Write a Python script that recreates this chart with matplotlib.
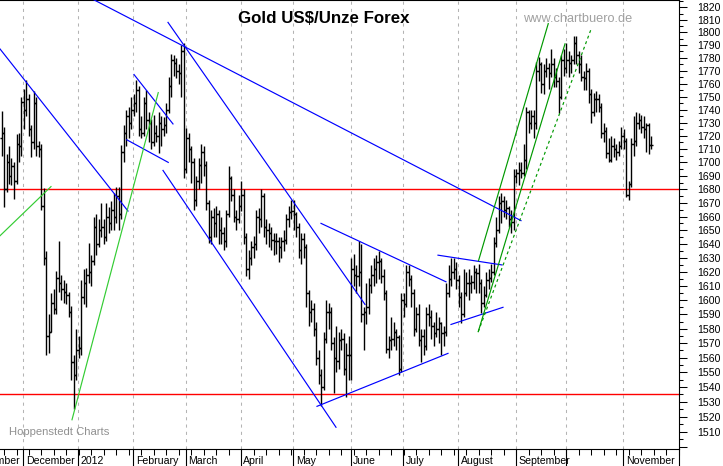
import numpy as np
import pandas as pd
import matplotlib
matplotlib.use('Agg')
import matplotlib.pyplot as plt
import matplotlib.transforms as mtransforms
from matplotlib.ticker import FixedLocator, NullFormatter, FixedFormatter

plt.rcParams['font.family'] = ['Liberation Sans', 'DejaVu Sans']

# ---------------- data (daily OHLC, weekdays) ----------------
start_date = '2011-11-18'
bars_nov11 = [(1718,1739,1705,1722),(1722,1727,1667,1680),(1680,1706,1678,1700),(1700,1712,1684,1690),
              (1690,1703,1683,1697),(1697,1700,1673,1686),(1686,1721,1684,1714),(1714,1722,1700,1712),
              (1712,1750,1705,1746)]
bars_dec11 = [(1746,1756,1725,1740),(1740,1763,1735,1748),(1748,1752,1720,1725),(1725,1728,1704,1715),
              (1715,1754,1710,1745),(1745,1750,1705,1712),(1712,1716,1704,1710),(1710,1714,1665,1668),
              (1668,1681,1625,1630),(1630,1635,1562,1575),(1575,1590,1563,1578),(1578,1605,1578,1598),
              (1598,1608,1590,1594),(1594,1621,1590,1616),(1616,1642,1606,1612),(1612,1618,1600,1608),
              (1608,1614,1598,1606),(1606,1612,1597,1604),(1604,1606,1588,1592),(1592,1596,1545,1557),
              (1557,1562,1525,1548),(1548,1580,1545,1565)]
bars_jan12 = [(1565,1575,1560,1567),(1567,1614,1562,1602),(1602,1622,1597,1612),(1612,1623,1595,1618),
              (1618,1641,1612,1620),(1620,1632,1610,1628),(1628,1660,1625,1652),(1652,1662,1632,1640),
              (1640,1658,1638,1650),(1650,1670,1645,1652),(1652,1658,1640,1645),(1645,1670,1642,1660),
              (1660,1667,1648,1655),(1655,1671,1650,1665),(1665,1677,1650,1660),(1660,1682,1655,1675),
              (1675,1682,1650,1662),(1662,1713,1658,1708),(1708,1728,1700,1722),(1722,1740,1712,1735),
              (1735,1742,1718,1730),(1730,1750,1725,1740)]
bars_feb12 = [(1740,1752,1735,1745),(1745,1763,1738,1755),(1755,1758,1720,1725),(1725,1735,1718,1722),
              (1722,1750,1720,1745),(1745,1755,1725,1732),(1732,1738,1715,1730),(1730,1733,1710,1715),
              (1715,1736,1712,1722),(1722,1728,1715,1720),(1720,1738,1707,1730),(1730,1735,1712,1725),
              (1725,1734,1720,1728),(1728,1745,1722,1740),(1740,1765,1737,1758),(1758,1783,1750,1778),
              (1778,1782,1766,1776),(1776,1780,1764,1770),(1770,1775,1760,1768),(1768,1790,1750,1785),
              (1785,1792,1688,1695)]
bars_mar12 = [(1695,1726,1692,1718),(1718,1722,1700,1710),(1710,1712,1685,1700),(1700,1703,1665,1672),
              (1672,1690,1668,1686),(1686,1703,1680,1698),(1698,1714,1685,1708),(1708,1712,1690,1698),
              (1698,1701,1665,1670),(1670,1672,1641,1645),(1645,1665,1640,1660),(1660,1666,1645,1655),
              (1655,1668,1645,1662),(1662,1665,1640,1650),(1650,1660,1640,1648),(1648,1652,1636,1642),
              (1642,1665,1638,1662),(1662,1697,1660,1688),(1688,1690,1671,1676),(1676,1680,1656,1660),
              (1660,1665,1650,1658),(1658,1676,1655,1668)]
bars_apr12 = [(1668,1686,1664,1676),(1676,1680,1640,1645),(1645,1648,1617,1622),(1622,1636,1615,1630),
              (1630,1642,1625,1638),(1638,1646,1630,1640),(1640,1665,1636,1660),(1660,1666,1648,1658),
              (1658,1680,1652,1675),(1675,1677,1645,1652),(1652,1658,1640,1650),(1650,1655,1638,1648),
              (1648,1652,1636,1643),(1643,1648,1632,1642),(1642,1648,1633,1642),(1642,1645,1627,1638),
              (1638,1645,1630,1642),(1642,1650,1635,1643),(1643,1662,1640,1658),(1658,1668,1652,1663),
              (1663,1672,1658,1664)]
bars_may12 = [(1664,1672,1650,1662),(1662,1663,1645,1652),(1652,1655,1630,1636),(1636,1648,1626,1644),
              (1644,1648,1630,1638),(1638,1640,1595,1605),(1605,1607,1582,1592),(1592,1600,1585,1594),
              (1594,1598,1575,1580),(1580,1585,1555,1560),(1560,1565,1542,1548),(1548,1552,1527,1540),
              (1540,1578,1538,1573),(1573,1600,1570,1592),(1592,1598,1580,1592),(1592,1595,1565,1570),
              (1570,1574,1536,1560),(1560,1582,1550,1558),(1558,1578,1552,1572),(1572,1580,1565,1573),
              (1573,1577,1548,1552),(1552,1570,1533,1562),(1562,1575,1545,1562)]
bars_jun12 = [(1562,1630,1545,1622),(1622,1633,1610,1618),(1618,1625,1605,1617),(1617,1642,1610,1620),
              (1620,1640,1585,1590),(1590,1595,1565,1592),(1592,1612,1583,1595),(1595,1616,1590,1611),
              (1611,1625,1605,1618),(1618,1630,1610,1622),(1622,1632,1612,1627),(1627,1635,1615,1628),
              (1628,1630,1612,1617),(1617,1622,1600,1605),(1605,1607,1563,1566),(1566,1575,1560,1572),
              (1572,1588,1565,1573),(1573,1585,1568,1578),(1578,1580,1565,1574),(1574,1576,1548,1552),
              (1552,1605,1550,1600)]
bars_jul12 = [(1600,1605,1588,1597),(1597,1625,1595,1620),(1620,1625,1610,1615),(1615,1618,1595,1605),
              (1605,1608,1575,1580),(1580,1595,1578,1590),(1590,1597,1568,1572),(1572,1580,1557,1575),
              (1575,1580,1562,1568),(1568,1595,1565,1590),(1590,1597,1582,1588),(1588,1593,1573,1582),
              (1582,1585,1568,1577),(1577,1592,1574,1580),(1580,1588,1570,1584),(1584,1585,1562,1577),
              (1577,1582,1568,1578),(1578,1612,1575,1605),(1605,1625,1602,1615),(1615,1630,1610,1620),
              (1620,1630,1615,1622),(1622,1627,1608,1614)]
bars_aug12 = [(1614,1618,1595,1602),(1602,1606,1584,1590),(1590,1622,1588,1605),(1605,1620,1603,1612),
              (1612,1622,1600,1612),(1612,1618,1605,1613),(1613,1625,1608,1620),(1620,1623,1605,1619),
              (1619,1626,1605,1612),(1612,1615,1591,1598),(1598,1610,1595,1604),(1604,1620,1602,1614),
              (1614,1622,1608,1616),(1616,1626,1613,1620),(1620,1645,1618,1641),(1641,1660,1638,1650),
              (1650,1675,1648,1670),(1670,1677,1655,1671),(1671,1675,1660,1665),(1665,1672,1658,1666),
              (1666,1668,1652,1658),(1658,1665,1648,1656),(1656,1695,1650,1690)]
bars_sep12 = [(1690,1695,1685,1692),(1692,1700,1683,1694),(1694,1700,1688,1692),(1692,1714,1690,1702),
              (1702,1742,1695,1738),(1738,1740,1722,1730),(1730,1740,1725,1735),(1735,1740,1718,1730),
              (1730,1777,1725,1770),(1770,1781,1762,1775),(1775,1777,1753,1760),(1760,1775,1752,1770),
              (1770,1780,1765,1772),(1772,1776,1756,1768),(1768,1787,1765,1775),(1775,1780,1757,1765),
              (1765,1772,1757,1762),(1762,1765,1737,1750),(1750,1782,1748,1778),(1778,1787,1766,1772)]
bars_oct12 = [(1772,1792,1768,1778),(1778,1785,1765,1776),(1776,1782,1768,1778),(1778,1797,1775,1792),
              (1792,1797,1775,1782),(1782,1785,1768,1775),(1775,1782,1762,1765),(1765,1770,1755,1764),
              (1764,1776,1755,1770),(1770,1772,1745,1752),(1752,1756,1730,1738),(1738,1753,1735,1748),
              (1748,1754,1738,1748),(1748,1752,1738,1742),(1742,1745,1718,1722),(1722,1730,1715,1724),
              (1724,1727,1703,1707),(1707,1718,1700,1702),(1702,1720,1700,1712),(1712,1718,1704,1710),
              (1710,1714,1702,1708),(1708,1716,1705,1712),(1712,1727,1710,1720)]
bars_nov12 = [(1720,1725,1710,1716),(1716,1718,1674,1676),(1676,1686,1672,1684),(1684,1718,1682,1714),
              (1714,1735,1705,1716),(1716,1738,1712,1730),(1730,1737,1725,1732),(1732,1736,1722,1727),
              (1727,1735,1718,1725),(1725,1730,1708,1728),(1728,1730,1706,1713),(1713,1720,1710,1713)]

# horizontal support / resistance levels
red_levels = [1680, 1535]

# trend lines: ((trading-day index from 2011-12-01, price), (index, price))
blue_lines = [((-9.6, 1787), (41.6, 1664)),
              ((28.0, 1826), (198.8, 1657)),
              ((57.6, 1808), (136.4, 1597)),
              ((55.6, 1694), (124.8, 1513)),
              ((117.2, 1527), (169.6, 1563)),
              ((118.8, 1655), (168.8, 1613)),
              ((165.6, 1632), (191.2, 1625)),
              ((170.8, 1583), (191.6, 1595)),
              ((44.0, 1767), (59.6, 1729)),
              ((41.1, 1717), (57.7, 1700))]
green_light_lines = [((19.2, 1518), (53.7, 1753)),
                     ((-9.6, 1646), (10.8, 1682))]
green_solid_lines = [((181.8, 1628), (209.7, 1807)),
                     ((181.7, 1578), (216.4, 1791))]
green_dashed_lines = [((181.7, 1578), (226.9, 1803))]

month_labels = ['November', 'December', '2012', 'February', 'March', 'April', 'May',
                'June', 'July', 'August', 'September', '', 'November']
ytick_values = list(range(1500, 1821, 10))

# ---------------- prepare ----------------
bars = (bars_nov11 + bars_dec11 + bars_jan12 + bars_feb12 + bars_mar12 + bars_apr12 +
        bars_may12 + bars_jun12 + bars_jul12 + bars_aug12 + bars_sep12 + bars_oct12 + bars_nov12)
opens, highs, lows, closes = [np.array(v, dtype=float) for v in zip(*bars)]
dates = pd.bdate_range(start_date, periods=len(bars))
ref = np.datetime64('2011-12-01')


def day_index(d):
    return int(np.busday_count(ref, np.datetime64(pd.Timestamp(d).date())))


xs = np.array([day_index(d) for d in dates], dtype=float)

month_starts = pd.date_range('2011-11-01', '2012-11-01', freq='MS')
month_first_bd = [pd.bdate_range(m, periods=1)[0] for m in month_starts]
month_x = np.array([day_index(d) for d in month_first_bd], dtype=float) - 0.3

mondays = pd.date_range('2011-11-14', '2012-12-03', freq='W-MON')
monday_x = [day_index(d) for d in mondays]

# ---------------- figure ----------------
W, H = 723, 466
fig = plt.figure(figsize=(W / 100, H / 100), dpi=100)
fig.patch.set_facecolor('white')
ax = fig.add_axes([0, 17 / H, 679 / W, 449 / H])
ax.set_facecolor('white')
ax.set_yscale('log')
ax.set_xlim(-9.6, 262)
ax.set_ylim(1498.6, 1825.9)

# month grid
for mx in month_x:
    ax.axvline(mx, color='#b4b4b4', lw=0.75, ls=(0, (3, 4)), zorder=1)

# red levels
for lv in red_levels:
    ax.axhline(lv, color='#ff0000', lw=1.0, zorder=2)

# OHLC bars
ax.vlines(xs, lows, highs, color='black', lw=1.0, zorder=4)
ax.hlines(opens, xs - 0.8, xs, color='black', lw=1.0, zorder=4)
ax.hlines(closes, xs, xs + 0.8, color='black', lw=1.0, zorder=4)

# trend lines
for (x0, y0), (x1, y1) in blue_lines:
    ax.plot([x0, x1], [y0, y1], color='#0000ff', lw=0.85, zorder=5)
for (x0, y0), (x1, y1) in green_light_lines:
    ax.plot([x0, x1], [y0, y1], color='#33cc33', lw=0.85, zorder=5)
for (x0, y0), (x1, y1) in green_solid_lines:
    ax.plot([x0, x1], [y0, y1], color='#009900', lw=0.85, zorder=5)
for (x0, y0), (x1, y1) in green_dashed_lines:
    ax.plot([x0, x1], [y0, y1], color='#009900', lw=0.85, ls=(0, (2.5, 2.5)), zorder=5)

# axes styling
for side in ['left']:
    ax.spines[side].set_visible(False)
for side in ['top', 'bottom', 'right']:
    ax.spines[side].set_linewidth(0.8)
    ax.spines[side].set_color('black')

ax.yaxis.tick_right()
ax.yaxis.set_major_locator(FixedLocator(ytick_values))
ax.yaxis.set_major_formatter(FixedFormatter([('' if v == 1500 else str(v)) for v in ytick_values]))
ax.yaxis.set_minor_locator(FixedLocator([v + 5 for v in ytick_values]))
ax.yaxis.set_minor_formatter(NullFormatter())
ax.tick_params(axis='y', which='major', direction='out', length=5.8, width=0.75,
               pad=7.2, labelsize=7.6, right=True, left=False, labelright=True, labelleft=False)
ax.tick_params(axis='y', which='minor', direction='out', length=3.0, width=0.75,
               right=True, left=False)

ax.xaxis.set_major_locator(FixedLocator(monday_x))
ax.xaxis.set_minor_locator(FixedLocator([]))
ax.tick_params(axis='x', which='major', direction='out', length=4.3, width=0.75,
               labelbottom=False, top=False)

trans = mtransforms.blended_transform_factory(ax.transData, ax.transAxes)
below = -17 / 449
for mx, lab in zip(month_x, month_labels):
    ax.plot([mx, mx], [0, below], color='black', lw=0.8, transform=trans, clip_on=False)
    if lab:
        ax.text(mx + 1.0, -11.6 / 449, lab, transform=trans, ha='left', va='center',
                fontsize=7.6, color='black', clip_on=False)
ax.plot([1, 1], [0, below], color='black', lw=0.8, transform=ax.transAxes, clip_on=False)

# texts
fig.text(238 / W, 1 - 23.3 / H, 'Gold US$/Unze Forex', fontsize=12.2, fontweight='bold',
         ha='left', va='baseline', color='black')
fig.text(523 / W, 1 - 21.7 / H, 'www.chartbuero.de', fontsize=9.2, ha='left',
         va='baseline', color='#a0a0a0')
fig.text(9.3 / W, 1 - 435 / H, 'Hoppenstedt Charts', fontsize=8.1, ha='left',
         va='baseline', color='#909090')

fig.savefig('out.png', dpi=100, facecolor='white')
